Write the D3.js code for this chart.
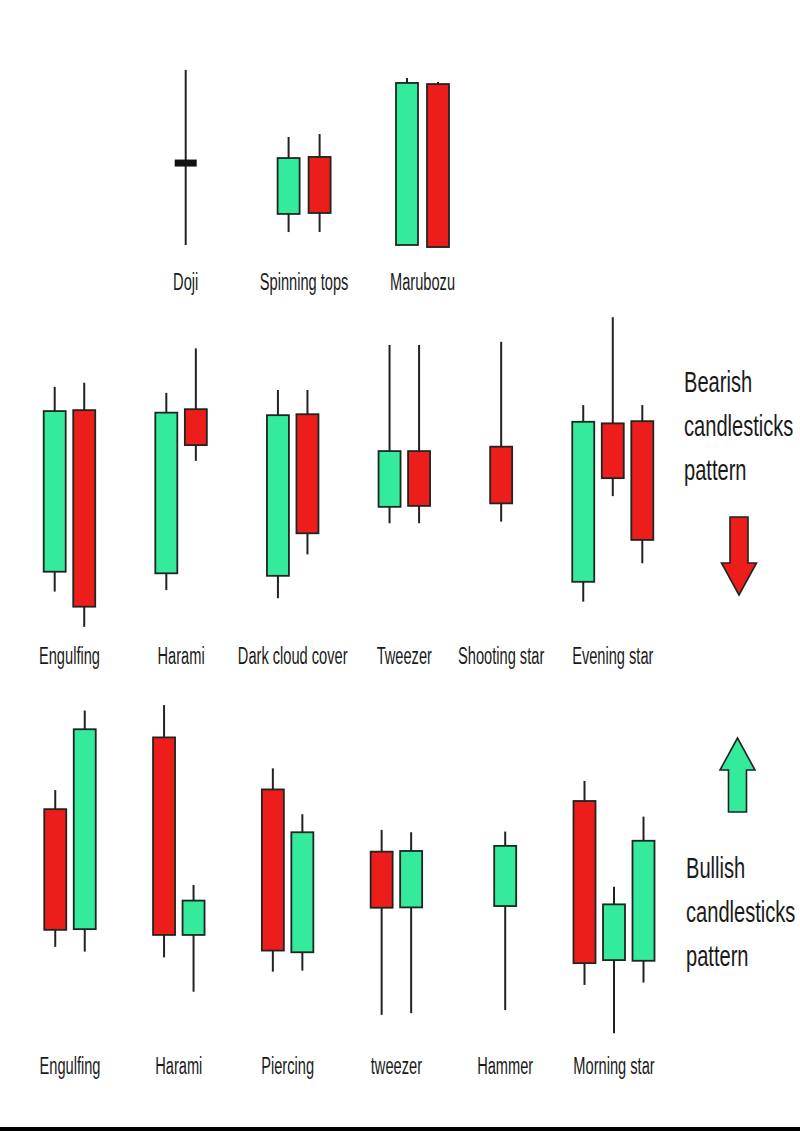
<!DOCTYPE html>
<html><head><meta charset="utf-8">
<script src="https://cdn.jsdelivr.net/npm/d3@7"></script>
<style>html,body{margin:0;padding:0;background:#fff;}</style>
</head><body><svg id="chart" width="800" height="1131"></svg>
<script>
// ---------- DATA ----------
const row1Patterns = ["Doji", "Spinning tops", "Marubozu"];
const row1Candles = [
  {pattern: "Doji",          open: 47.0, high: 97.3, low: 2.7,  close: 47.0},
  {pattern: "Spinning tops", open: 19.5, high: 61.1, low: 9.7,  close: 49.7},
  {pattern: "Spinning tops", open: 50.3, high: 62.7, low: 9.7,  close: 20.0},
  {pattern: "Marubozu",      open: 2.7,  high: 93.0, low: 2.7,  close: 90.3},
  {pattern: "Marubozu",      open: 89.7, high: 90.8, low: 1.6,  close: 1.6}
];

const bearishPatterns = ["Engulfing", "Harami", "Dark cloud cover", "Tweezer", "Shooting star", "Evening star"];
const bearishCandles = [
  {pattern: "Engulfing",        open: 18.5, high: 77.2, low: 12.2, close: 69.5},
  {pattern: "Engulfing",        open: 69.8, high: 78.5, low: 1.0,  close: 7.4},
  {pattern: "Harami",           open: 18.0, high: 75.3, low: 12.7, close: 69.0},
  {pattern: "Harami",           open: 70.1, high: 89.4, low: 53.7, close: 58.7},
  {pattern: "Dark cloud cover", open: 17.2, high: 76.2, low: 10.1, close: 68.2},
  {pattern: "Dark cloud cover", open: 68.5, high: 76.2, low: 24.0, close: 30.7},
  {pattern: "Tweezer",          open: 39.1, high: 90.5, low: 33.9, close: 56.8},
  {pattern: "Tweezer",          open: 56.8, high: 90.5, low: 33.9, close: 39.4},
  {pattern: "Shooting star",    open: 58.2, high: 91.5, low: 34.4, close: 40.2},
  {pattern: "Evening star",     open: 15.3, high: 71.4, low: 9.0,  close: 66.1},
  {pattern: "Evening star",     open: 65.6, high: 99.3, low: 42.5, close: 48.2},
  {pattern: "Evening star",     open: 66.3, high: 71.4, low: 21.2, close: 28.6}
];

const bullishPatterns = ["Engulfing", "Harami", "Piercing", "tweezer", "Hammer", "Morning star"];
const bullishCandles = [
  {pattern: "Engulfing",    open: 67.9, high: 73.5, low: 27.4, close: 32.4},
  {pattern: "Engulfing",    open: 32.6, high: 96.9, low: 26.0, close: 91.4},
  {pattern: "Harami",       open: 89.0, high: 98.5, low: 24.3, close: 30.9},
  {pattern: "Harami",       open: 30.9, high: 45.6, low: 14.2, close: 41.0},
  {pattern: "Piercing",     open: 73.7, high: 79.9, low: 20.1, close: 26.3},
  {pattern: "Piercing",     open: 25.8, high: 66.4, low: 20.4, close: 61.1},
  {pattern: "tweezer",      open: 55.4, high: 61.8, low: 7.4,  close: 38.9},
  {pattern: "tweezer",      open: 39.0, high: 61.1, low: 7.9,  close: 55.6},
  {pattern: "Hammer",       open: 39.4, high: 61.3, low: 8.8,  close: 57.1},
  {pattern: "Morning star", open: 70.3, high: 76.2, low: 16.2, close: 22.6},
  {pattern: "Morning star", open: 23.5, high: 45.1, low: 2.0,  close: 39.9},
  {pattern: "Morning star", open: 23.3, high: 65.7, low: 16.9, close: 58.6}
];

const bearishCaption = ["Bearish", "candlesticks", "pattern"];
const bullishCaption = ["Bullish", "candlesticks", "pattern"];

// ---------- STYLE / LAYOUT ----------
const GREEN = "#34ea9b", RED = "#ec1d1a", INK = "#1f2622", WICK = "#222";
const svg = d3.select("#chart");
svg.append("rect").attr("width", 800).attr("height", 1131).attr("fill", "#fff");

const rows = [
  {patterns: row1Patterns, candles: row1Candles, xRange: [185.7, 422.5], yRange: [250, 65], labelY: 290, step: 31, mode: "point"},
  {patterns: bearishPatterns, candles: bearishCandles, xRange: [54.7, 642.3], yRange: [630, 315], labelY: 664, gap: 1.78, mode: "slots"},
  {patterns: bullishPatterns, candles: bullishCandles, xRange: [70, 614], yRange: [1040, 700], labelY: 1074, step: 29.5, mode: "point"}
];
const bodyW = 22;

rows.forEach(row => {
  const y = d3.scaleLinear().domain([0, 100]).range(row.yRange);
  const counts = d3.rollup(row.candles, v => v.length, d => d.pattern);
  const seen = new Map();
  let items, labelX;
  if (row.mode === "point") {
    const x = d3.scalePoint().domain(row.patterns).range(row.xRange);
    items = row.candles.map(c => {
      const i = seen.get(c.pattern) || 0; seen.set(c.pattern, i + 1);
      const n = counts.get(c.pattern);
      return {...c, cx: x(c.pattern) + (i - (n - 1) / 2) * row.step};
    });
    labelX = p => x(p);
  } else {
    // sequential candle slots with a gap between pattern groups
    const slotOf = row.candles.map((c, k) => k + row.patterns.indexOf(c.pattern) * row.gap);
    const x = d3.scaleLinear().domain(d3.extent(slotOf)).range(row.xRange);
    items = row.candles.map((c, k) => ({...c, cx: x(slotOf[k])}));
    const centers = d3.rollup(items, v => d3.mean(v, d => d.cx), d => d.pattern);
    labelX = p => centers.get(p);
  }
  const g = svg.append("g");
  g.selectAll("line.wick").data(items).join("line").attr("class", "wick")
    .attr("x1", d => d.cx).attr("x2", d => d.cx)
    .attr("y1", d => y(d.high)).attr("y2", d => y(d.low))
    .attr("stroke", WICK).attr("stroke-width", 2);
  g.selectAll("rect.body").data(items).join("rect").attr("class", "body")
    .attr("x", d => d.cx - bodyW / 2)
    .attr("y", d => d.open === d.close ? y(d.open) - 3.5 : y(Math.max(d.open, d.close)))
    .attr("width", bodyW)
    .attr("height", d => d.open === d.close ? 7 : Math.abs(y(d.open) - y(d.close)))
    .attr("fill", d => d.close > d.open ? GREEN : d.close < d.open ? RED : "#111")
    .attr("stroke", d => d.open === d.close ? "none" : INK)
    .attr("stroke-width", 1.8);
  g.selectAll("g.lab").data(row.patterns).join("g").attr("class", "lab")
    .attr("transform", d => `translate(${labelX(d)},${row.labelY}) scale(0.61,1)`)
    .append("text").attr("text-anchor", "middle")
    .attr("font-family", "Liberation Sans, Arial, sans-serif")
    .attr("font-size", 24).attr("fill", "#1a1a1a").text(d => d);
});

// captions
function caption(lines, x0, y0) {
  const g = svg.append("g");
  lines.forEach((t, i) => {
    g.append("g").attr("transform", `translate(${x0},${y0 + i * 44}) scale(0.67,1)`)
      .append("text").attr("font-family", "Liberation Sans, Arial, sans-serif")
      .attr("font-size", 30).attr("fill", "#1a1a1a").text(t);
  });
}
caption(bearishCaption, 684, 392);
caption(bullishCaption, 686, 878);

// arrows
function arrow(cx, tail, tip, fill) {
  const dir = tip > tail ? 1 : -1;
  const headLen = 32, shaftHalf = 9, headHalf = 17.5;
  const base = tip - dir * headLen;
  const pts = [[cx - shaftHalf, tail], [cx + shaftHalf, tail], [cx + shaftHalf, base], [cx + headHalf, base],
    [cx, tip], [cx - headHalf, base], [cx - shaftHalf, base]];
  svg.append("path").attr("d", d3.line()(pts) + "Z")
    .attr("fill", fill).attr("stroke", INK).attr("stroke-width", 1.6).attr("stroke-linejoin", "miter");
}
arrow(739, 517, 595, RED);
arrow(737.5, 812, 738, GREEN);

// bottom rule
svg.append("rect").attr("x", 0).attr("y", 1127).attr("width", 800).attr("height", 4).attr("fill", "#000");
</script></body></html>
